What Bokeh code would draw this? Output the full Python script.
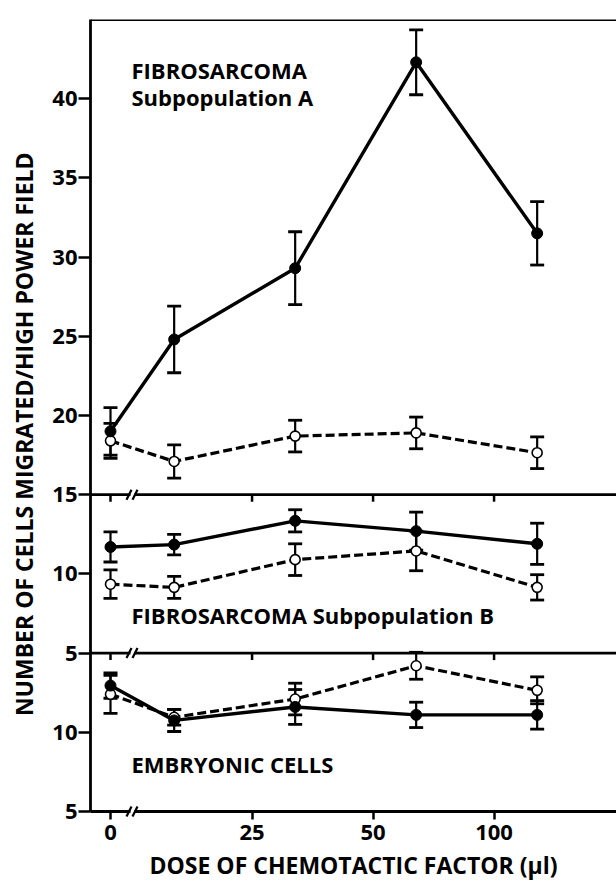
import numpy as np
from bokeh.plotting import figure
from bokeh.layouts import row
from bokeh.models import Range1d, ColumnDataSource, Whisker, TeeHead, Span, FixedTicker
from bokeh.embed import file_html
from bokeh.resources import INLINE
from bokeh.core.properties import value

# ---------------- data ----------------
doses = [0, 16, 32, 64, 128]          # µl (plotted on a doubling scale with a break at 0)
x_tick_labels = [0, 25, 50, 100]

# Fibrosarcoma subpopulation A (main y scale 15..45)
a_filled = [19.0, 24.8, 29.3, 42.3, 31.5]
a_filled_err = [1.5, 2.1, 2.3, 2.05, 2.0]
a_open = [18.4, 17.1, 18.7, 18.9, 17.65]
a_open_err = [1.1, 1.05, 1.0, 1.0, 1.0]

# Fibrosarcoma subpopulation B (5..15)
b_filled = [11.7, 11.85, 13.35, 12.7, 11.9]
b_filled_err = [0.95, 0.65, 0.7, 1.2, 1.3]
b_open = [9.35, 9.15, 10.9, 11.45, 9.15]
b_open_err = [0.9, 0.7, 1.0, 1.25, 0.8]

# Embryonic cells (5..15)
e_filled = [12.95, 10.75, 11.6, 11.1, 11.1]
e_filled_err = [0.8, 0.7, 1.1, 0.8, 0.9]
e_open = [12.4, 10.95, 12.1, 14.2, 12.65]
e_open_err = [1.2, 0.5, 1.0, 0.85, 0.85]

main_y_ticks = [40, 35, 30, 25, 20, 15, 10, 5]
emb_y_ticks = [10, 5]

y_title = "NUMBER OF CELLS MIGRATED/HIGH POWER FIELD"
x_title = "DOSE OF CHEMOTACTIC FACTOR (µl)"

# ---------------- layout constants ----------------
EMB_OFFSET = 10.0          # embryonic panel axis = main axis + 10
BREAK_GAP = 1.17           # distance (log2 units) from the 0 position to the 25 tick
ZERO_POS = np.log2(25) - BREAK_GAP
PX_X = 121.0               # px per log2 unit
PX_Y = 15.84               # px per y unit
FONT = "Open Sans"
H = 886
LW = 42                    # width of the strip holding the vertical title
W = 616 - LW
BL, BT, BB = 90 - LW, 19, 75


def xpos(d):
    d = np.asarray(d, dtype=float)
    out = np.full(d.shape, ZERO_POS)
    pos = d > 0
    out[pos] = np.log2(d[pos])
    return np.round(out, 6)


p = figure(width=W, height=H,
           x_range=Range1d(ZERO_POS - 20 / PX_X, ZERO_POS + (W - BL - 20) / PX_X),
           y_range=Range1d(-5, 45),
           output_backend="svg", toolbar_location=None,
           min_border_left=BL, min_border_right=0,
           min_border_top=BT, min_border_bottom=BB)
p.extra_y_ranges = {"emb": Range1d(-5 + EMB_OFFSET, 45 + EMB_OFFSET)}
p.grid.visible = False
p.outline_line_color = None
p.background_fill_color = "white"

# ---------------- axes ----------------
xt = list(xpos(x_tick_labels))
p.xaxis.ticker = FixedTicker(ticks=xt)
p.xaxis.major_label_overrides = {float(k): str(v) for k, v in zip(xt, x_tick_labels)}
p.xaxis.axis_label = x_title

yt = [float(v) for v in main_y_ticks] + [float(v - EMB_OFFSET) for v in emb_y_ticks]
p.yaxis.ticker = FixedTicker(ticks=yt)
p.yaxis.major_label_overrides = {float(v - EMB_OFFSET): str(v) for v in emb_y_ticks}

for ax in (p.xaxis[0], p.yaxis[0]):
    ax.axis_line_width = 2.8
    ax.axis_line_color = "black"
    ax.major_tick_line_width = 2.5
    ax.major_tick_line_color = "black"
    ax.major_tick_in = 0
    ax.minor_tick_line_color = None
    ax.major_label_text_font = FONT
    ax.major_label_text_font_style = "bold"
    ax.major_label_text_font_size = "22px"
    ax.major_label_text_color = "black"
    ax.axis_label_text_font = FONT
    ax.axis_label_text_font_style = "bold"
    ax.axis_label_text_color = "black"

p.yaxis.major_tick_out = 12
p.yaxis.major_label_standoff = 1
p.xaxis.major_tick_out = 8
p.xaxis.major_label_standoff = 5
p.xaxis.axis_label_text_font_size = "23px"
p.xaxis.axis_label_standoff = 6

# top border and inner panel axes
p.add_layout(Span(location=45, dimension="width", line_color="black", line_width=3))
for yl in (15, 5):
    p.add_layout(Span(location=yl, dimension="width", line_color="black", line_width=2.8))
    p.segment(x0=xt, y0=[yl] * len(xt), x1=xt, y1=[yl - 7 / PX_Y] * len(xt),
              line_color="black", line_width=2.5)

# axis break marks
for yl in (15, 5, -5):
    gx0 = ZERO_POS + 20 / PX_X
    gx1 = ZERO_POS + 24 / PX_X
    p.segment(x0=[gx0], y0=[yl], x1=[gx1], y1=[yl], line_color="white",
              line_width=5, level="overlay")
    for off in (16, 22):
        p.segment(x0=[ZERO_POS + off / PX_X], y0=[yl - 5 / PX_Y],
                  x1=[ZERO_POS + (off + 5) / PX_X], y1=[yl + 5 / PX_Y],
                  line_color="black", line_width=2.2, level="overlay")

# ---------------- series ----------------
xs = xpos(doses)


def series(vals, errs, filled, y_range_name="default"):
    v = np.asarray(vals, dtype=float)
    e = np.asarray(errs, dtype=float)
    src = ColumnDataSource(dict(x=xs, y=v, lo=v - e, hi=v + e))
    w = Whisker(base="x", lower="lo", upper="hi", source=src,
                line_color="black", line_width=2.2,
                upper_head=TeeHead(size=14, line_width=2.8, line_color="black"),
                lower_head=TeeHead(size=14, line_width=2.8, line_color="black"),
                level="underlay", y_range_name=y_range_name)
    p.add_layout(w)
    if filled:
        p.line("x", "y", source=src, line_color="black", line_width=3.4,
               y_range_name=y_range_name)
    else:
        p.line("x", "y", source=src, line_color="black", line_width=3.2,
               line_dash="9 4", y_range_name=y_range_name)
    return src


srcs = [
    (series(a_open, a_open_err, False), False, "default"),
    (series(a_filled, a_filled_err, True), True, "default"),
    (series(b_open, b_open_err, False), False, "default"),
    (series(b_filled, b_filled_err, True), True, "default"),
    (series(e_open, e_open_err, False, "emb"), False, "emb"),
    (series(e_filled, e_filled_err, True, "emb"), True, "emb"),
]
for src, filled, rn in srcs:
    if filled:
        p.scatter("x", "y", source=src, size=11, fill_color="black",
                  line_color="black", y_range_name=rn)
    else:
        p.scatter("x", "y", source=src, size=10, fill_color="white",
                  line_color="black", line_width=1.6, y_range_name=rn)

# ---------------- panel captions ----------------
lab_x = ZERO_POS + 21 / PX_X
txt_kw = dict(text_font=value(FONT), text_font_style="bold", text_font_size="22px",
              text_color="black", text_align="left", text_baseline="alphabetic")
p.text(x=[lab_x], y=[41.8], text=["FIBROSARCOMA"], **txt_kw)
p.text(x=[lab_x], y=[40.1], text=["Subpopulation A"], **txt_kw)
p.text(x=[lab_x], y=[7.4], text=["FIBROSARCOMA Subpopulation B"], **txt_kw)
p.text(x=[lab_x], y=[-2.0 + EMB_OFFSET], text=["EMBRYONIC CELLS"],
       y_range_name="emb", **txt_kw)

# ---------------- vertical title strip ----------------
t = figure(width=LW, height=H, x_range=Range1d(0, LW), y_range=Range1d(0, H),
           output_backend="svg", toolbar_location=None,
           x_axis_location=None, y_axis_location=None,
           min_border=0)
t.grid.visible = False
t.outline_line_color = None
t.text(x=[23], y=[422], text=[y_title], angle=np.pi / 2,
       text_font=value(FONT), text_font_style="bold", text_font_size="23px",
       text_color="black", text_align="center", text_baseline="middle")

layout = row(t, p, spacing=0)
open("out.html", "w").write(file_html(layout, INLINE))
